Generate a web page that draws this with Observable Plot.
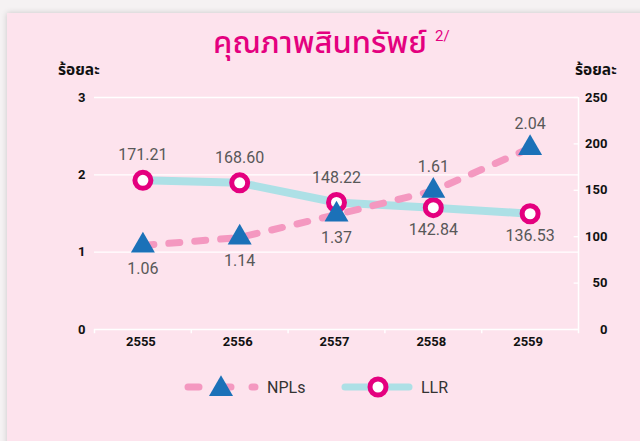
<!DOCTYPE html>
<html><head><meta charset="utf-8">
<script src="https://cdn.jsdelivr.net/npm/d3@7"></script>
<script src="https://cdn.jsdelivr.net/npm/@observablehq/plot@0.6"></script>
<style>
html,body{margin:0;padding:0;width:640px;height:441px;overflow:hidden;background:#f5f2f3;}
#wrap{position:relative;width:640px;height:441px;}
#panel{position:absolute;left:7px;top:13px;width:640px;height:440px;background:#fde3ed;box-shadow:0 0 6px rgba(0,0,0,0.18);}
.thai{font-family:"Noto Sans Thai","Noto Sans Thai UI","Loma","Garuda","Tlwg Typo","Noto Sans",sans-serif;}
#title{position:absolute;left:0;width:640px;top:24px;text-align:center;color:#e4007f;font-size:31px;font-weight:500;line-height:40px;}
#sup{position:absolute;left:435px;top:27px;color:#e4007f;font-family:Roboto,sans-serif;font-size:15px;}
.unit{position:absolute;top:59px;font-size:15.5px;font-weight:bold;color:#111;}
#chart{position:absolute;left:0;top:60px;}
#legend{position:absolute;top:374px;left:0;width:640px;height:26px;font-family:Roboto,sans-serif;font-size:16px;color:#333;}
</style></head>
<body><div id="wrap">
<div id="panel"></div>
<div id="title" class="thai">คุณภาพสินทรัพย์</div>
<div id="sup">2/</div>
<div class="unit thai" style="left:58px">ร้อยละ</div>
<div class="unit thai" style="left:575px">ร้อยละ</div>
<div id="chart"></div>
<div id="legend"></div>
</div>
<script>
// ---- data ----
const years = [2555, 2556, 2557, 2558, 2559];
const npl = [1.06, 1.14, 1.37, 1.61, 2.04];
const llr = [171.21, 168.60, 148.22, 142.84, 136.53];
const leftTicks = [0, 1, 2, 3];
const rightTicks = [0, 50, 100, 150, 200, 250];
const nplLabelAbove = [false, false, false, true, true];
const llrLabelAbove = [true, true, true, false, false];
const seriesNames = ["NPLs", "LLR"];

// ---- colours ----
const PINK = "#f498c0", BLUE = "#1b71b8", LIGHT = "#ade0e6", MAGENTA = "#e4007f", GREY = "#585858";

// hidden series axes as in the original chart (each series uses its own scale within the frame)
const nplAxis = d3.scaleLinear().domain([0.2145, 2.549]).range([0, 3]);
const llrAxis = d3.scaleLinear().domain([16.47, 257.1]).range([0, 3]);
const rightAxis = d3.scaleLinear().domain([0, 250]).range([0, 3]);

const rows = years.map((year, i) => ({year, npl: npl[i], llr: llr[i], nplAbove: nplLabelAbove[i], llrAbove: llrLabelAbove[i]}));
const boundaries = years.map(y => y - 0.5).concat([years[years.length - 1] + 0.5]);
const xMax = years[years.length - 1] + 0.5;

const numFont = "Roboto, sans-serif";

const chart = Plot.plot({
  width: 640, height: 300,
  marginTop: 37, marginBottom: 31, marginLeft: 94, marginRight: 62,
  style: {background: "transparent", overflow: "visible", color: "#111", fontFamily: numFont},
  x: {type: "linear", domain: [years[0] - 0.5, xMax], axis: null, label: null},
  y: {domain: [0, 3], axis: null, label: null},
  marks: [
    Plot.ruleY(leftTicks, {stroke: "white", strokeWidth: 1.3}),
    Plot.ruleX([xMax], {y1: 0, y2: 3, stroke: "white", strokeWidth: 1.5}),
    Plot.ruleX(boundaries, {y1: 0, y2: -0.055, stroke: "white", strokeWidth: 1.5}),
    Plot.ruleY(rightTicks, {y: d => rightAxis(d), x1: xMax - 0.045, x2: xMax, stroke: "white", strokeWidth: 1.3}),
    Plot.text(leftTicks, {y: d => d, frameAnchor: "left", text: d => String(d), dx: -9, textAnchor: "end", fontSize: 13, fontWeight: "bold", fill: "#111"}),
    Plot.text(rightTicks, {y: d => rightAxis(d), x: xMax, text: d => String(d), dx: 29, textAnchor: "end", fontSize: 13, fontWeight: "bold", fill: "#111"}),
    Plot.text(years, {x: d => d, frameAnchor: "bottom", text: d => String(d), dy: 16, dx: -2, fontSize: 13, fontWeight: "bold", fill: "#111"}),
    Plot.line(rows, {x: "year", y: d => llrAxis(d.llr), stroke: LIGHT, strokeWidth: 8}),
    Plot.line(rows, {x: "year", y: d => nplAxis(d.npl), stroke: PINK, strokeWidth: 7, strokeDasharray: "11,15", strokeLinecap: "round"}),
    Plot.dot(rows, {x: "year", y: d => llrAxis(d.llr), r: 8, fill: "white", stroke: MAGENTA, strokeWidth: 5}),
    Plot.dot(rows, {x: "year", y: d => nplAxis(d.npl), symbol: "triangle", r: 8.9, fill: BLUE, stroke: "none"}),
    Plot.text(rows.filter(d => d.llrAbove), {x: "year", y: d => llrAxis(d.llr), text: d => d.llr.toFixed(2), dy: -25, fontSize: 16, fill: GREY}),
    Plot.text(rows.filter(d => !d.llrAbove), {x: "year", y: d => llrAxis(d.llr), text: d => d.llr.toFixed(2), dy: 22, fontSize: 16, fill: GREY}),
    Plot.text(rows.filter(d => d.nplAbove), {x: "year", y: d => nplAxis(d.npl), text: d => d.npl.toFixed(2), dy: -24, fontSize: 16, fill: GREY}),
    Plot.text(rows.filter(d => !d.nplAbove), {x: "year", y: d => nplAxis(d.npl), text: d => d.npl.toFixed(2), dy: 23, fontSize: 16, fill: GREY})
  ]
});
document.getElementById("chart").appendChild(chart);

// ---- legend ----
const legend = d3.select("#legend").append("svg").attr("width", 640).attr("height", 26);
const g1 = legend.append("g");
g1.append("line").attr("x1", 188).attr("x2", 255).attr("y1", 13).attr("y2", 13)
  .attr("stroke", PINK).attr("stroke-width", 7).attr("stroke-linecap", "round").attr("stroke-dasharray", "11,21");
g1.append("path").attr("d", d3.symbol(d3.symbolTriangle, Math.PI * 8.9 * 8.9)()).attr("transform", "translate(221,15)").attr("fill", BLUE);
g1.append("text").attr("x", 267).attr("y", 19).attr("fill", "#333").text(seriesNames[0]);
const g2 = legend.append("g");
g2.append("line").attr("x1", 345).attr("x2", 409).attr("y1", 13).attr("y2", 13)
  .attr("stroke", LIGHT).attr("stroke-width", 7).attr("stroke-linecap", "round");
g2.append("circle").attr("cx", 378).attr("cy", 13).attr("r", 8).attr("fill", "white").attr("stroke", MAGENTA).attr("stroke-width", 5);
g2.append("text").attr("x", 421).attr("y", 19).attr("fill", "#333").text(seriesNames[1]);
</script>
</body></html>
